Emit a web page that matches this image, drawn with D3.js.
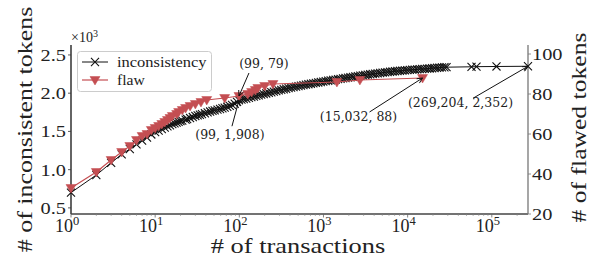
<!DOCTYPE html>
<html>
<head>
<meta charset="utf-8">
<script src="https://cdn.jsdelivr.net/npm/d3@7"></script>
<style>
  body { margin: 0; background: #fff; }
  svg text { font-family: "Liberation Serif", serif; fill: #222; }
  svg text.dv { font-family: "DejaVu Serif", serif; }
</style>
</head>
<body>
<div id="chart"></div>
<script>
// inconsistency: # of transactions vs cumulative inconsistent tokens
var txCounts = [1, 2, 3, 4, 5, 6, 7, 8, 9, 10, 11, 12, 13, 14, 15, 16, 17, 18, 19,
  20, 21, 23, 24, 26, 28, 30, 32, 34, 36, 39, 42, 45, 48, 51, 55, 59, 63, 67, 72, 77, 82, 88, 94, 99,
  106, 113, 121, 130, 139, 149, 159, 170, 182, 195, 209, 224, 240, 257, 275, 294, 315, 337, 360, 385,
  412, 441, 472, 505, 540, 578, 618, 662, 708, 758, 811, 868, 929, 994, 1063, 1138, 1217, 1303, 1394,
  1491, 1596, 1708, 1827, 1955, 2092, 2238, 2395, 2563, 2742, 2934, 3139, 3359, 3594, 3846, 4115,
  4403, 4711, 5041, 5394, 5771, 6175, 6608, 7070, 7565, 8095, 8661, 9268, 9917, 10611, 11353, 12148,
  12998, 13908, 14882, 15924, 17038, 18231, 19507, 20872, 22333, 23896, 25569, 27359, 29000,
  57400, 65800, 113700, 269204];
var inconsistentTokens = [700, 930, 1090, 1200, 1270, 1330, 1380, 1420, 1460, 1490, 1510, 1530, 1550, 1565, 1580, 1595, 1605, 1615, 1625,
  1635, 1642, 1655, 1662, 1675, 1688, 1702, 1710, 1718, 1727, 1737, 1748, 1760, 1768, 1775, 1784, 1793, 1803, 1812, 1822, 1834, 1846, 1862, 1886, 1908,
  1915, 1922, 1930, 1939, 1948, 1956, 1964, 1972, 1980, 1988, 1996, 2004, 2012, 2020, 2028, 2036, 2044, 2051, 2058, 2065,
  2072, 2079, 2086, 2093, 2099, 2105, 2111, 2117, 2123, 2129, 2135, 2140, 2146, 2152, 2157, 2163, 2168, 2173, 2178,
  2183, 2188, 2193, 2198, 2203, 2208, 2213, 2218, 2223, 2228, 2233, 2238, 2242, 2247, 2251, 2256,
  2260, 2264, 2268, 2272, 2276, 2280, 2283, 2287, 2290, 2293, 2296, 2299, 2302, 2304, 2307, 2309,
  2311, 2314, 2316, 2318, 2321, 2323, 2326, 2329, 2332, 2334, 2337, 2339, 2340,
  2345, 2347, 2349, 2352];

// flaw: # of transactions vs cumulative flawed tokens
var flawTx = [1, 2, 3, 4, 5, 6, 7, 8, 9, 10, 11, 12, 13, 14, 15, 16, 18, 19, 21, 23, 26, 30, 35, 41,
  67, 99, 126, 140, 155, 166, 200, 251, 1443, 2707, 15032];
var flawedTokens = [33, 41, 47, 51, 54, 57, 59, 60, 62, 63, 64, 65, 66, 67, 68, 69, 70, 71, 72, 73, 74, 75, 76, 77,
  78, 79, 80, 81, 82, 83, 84, 85, 86, 87, 88];

var xTicks = [1, 10, 100, 1000, 10000, 100000];
var leftTicks = [500, 1000, 1500, 2000, 2500];
var rightTicks = [20, 40, 60, 80, 100];

var noteLabels = ["(99, 79)", "(99, 1,908)", "(15,032, 88)", "(269,204, 2,352)"];
var noteX = [99, 99, 15032, 269204];
var noteY = [79, 1908, 88, 2352];
var noteAxis = ["right", "left", "right", "left"];

var W = 593, H = 260;
var red = "#c44e52";

var svg = d3.select("#chart").append("svg")
  .attr("width", W)
  .attr("height", H);

// DejaVu Serif falls back to sans at big sizes here, so large text uses
// Liberation Serif stretched to the advance widths DejaVu Serif would have
var adv = { "#": .838, " ": .318, "o": .602, "f": .37, "t": .402, "r": .478, "a": .596, "n": .644,
  "s": .513, "c": .56, "i": .32, "e": .592, "k": .6, "l": .32, "w": .856, "d": .64, "y": .568,
  ".": .318, ",": .318, "(": .39, ")": .39 };
function dvWidth(str, size) {
  var w = 0;
  for (var i = 0; i < str.length; i++) w += (/[0-9]/.test(str[i]) ? .636 : (adv[str[i]] || .6));
  return w * size;
}
function fit(sel, size) {
  sel.style("font-size", (size * 1.1) + "px")
    .attr("textLength", function() { return dvWidth(d3.select(this).text(), size); })
    .attr("lengthAdjust", "spacingAndGlyphs");
}

var x = d3.scaleLog().domain([1, 269204]).range([71, 528]);
var yL = d3.scaleLinear().domain([420, 2630]).range([214, 45]);
var yR = d3.scaleLinear().domain([20, 104.5]).range([214, 45]);

// spines
svg.append("line").attr("x1", 71).attr("x2", 71).attr("y1", 45).attr("y2", 214)
  .attr("stroke", "#111").attr("stroke-width", 1.3);
svg.append("line").attr("x1", 71).attr("x2", 528).attr("y1", 214).attr("y2", 214)
  .attr("stroke", "#444").attr("stroke-width", 1.3);
svg.append("line").attr("x1", 528).attr("x2", 528).attr("y1", 45).attr("y2", 214)
  .attr("stroke", "#777").attr("stroke-width", 1.3);

// x ticks (log, with minor)
var minor = [];
for (var d = 1; d <= 100000; d *= 10) {
  for (var m = 2; m <= 9; m++) if (d * m <= 269204) minor.push(d * m);
}
svg.append("g").selectAll("line").data(minor).enter().append("line")
  .attr("x1", function(v) { return x(v); }).attr("x2", function(v) { return x(v); })
  .attr("y1", 214).attr("y2", 216)
  .attr("stroke", "#888").attr("stroke-width", 0.6);
svg.append("g").selectAll("line").data(xTicks).enter().append("line")
  .attr("x1", function(v) { return x(v); }).attr("x2", function(v) { return x(v); })
  .attr("y1", 214).attr("y2", 217.5)
  .attr("stroke", "#666").attr("stroke-width", 0.8);
var xl = svg.append("g").selectAll("text").data(xTicks).enter().append("text")
  .attr("x", function(v) { return x(v) - 4; })
  .attr("y", 231.5)
  .attr("text-anchor", "middle")
  .style("font-size", "18px");
xl.append("tspan").text("10");
xl.append("tspan").attr("dy", -7).style("font-size", "12.5px")
  .text(function(v) { return Math.round(Math.log10(v)); });

// left ticks
svg.append("g").selectAll("line").data(leftTicks).enter().append("line")
  .attr("x1", 68).attr("x2", 71)
  .attr("y1", function(v) { return yL(v); }).attr("y2", function(v) { return yL(v); })
  .attr("stroke", "#333").attr("stroke-width", 0.8);
svg.append("g").selectAll("text").data(leftTicks).enter().append("text")
  .attr("x", 66).attr("y", function(v) { return yL(v); })
  .attr("dy", "0.34em")
  .attr("text-anchor", "end")
  .text(function(v) { return d3.format(".1f")(v / 1000); })
  .call(fit, 16);
var mult = svg.append("text").attr("x", 71).attr("y", 42).style("font-size", "14px");
mult.append("tspan").text("×10");
mult.append("tspan").attr("dy", -5).style("font-size", "10px").text("3");

// right ticks
svg.append("g").selectAll("line").data(rightTicks).enter().append("line")
  .attr("x1", 528).attr("x2", 531)
  .attr("y1", function(v) { return yR(v); }).attr("y2", function(v) { return yR(v); })
  .attr("stroke", "#777").attr("stroke-width", 0.8);
svg.append("g").selectAll("text").data(rightTicks).enter().append("text")
  .attr("x", 532).attr("y", function(v) { return yR(v); })
  .attr("dy", "0.34em")
  .text(function(v) { return v; })
  .call(fit, 16);

// axis titles
svg.append("text").attr("x", 298).attr("y", 253)
  .attr("text-anchor", "middle")
  .text("# of transactions")
  .call(fit, 20);
svg.append("text").attr("transform", "translate(32,129.5) rotate(-90)")
  .attr("text-anchor", "middle")
  .text("# of inconsistent tokens")
  .call(fit, 20);
svg.append("text").attr("transform", "translate(586,127.5) rotate(-90)")
  .attr("text-anchor", "middle")
  .text("# of flawed tokens")
  .call(fit, 20);

// inconsistency series
var incPts = txCounts.map(function(t, i) { return [t, inconsistentTokens[i]]; });
svg.append("path").datum(incPts)
  .attr("fill", "none").attr("stroke", "#111").attr("stroke-width", 1)
  .attr("d", d3.line().x(function(p) { return x(p[0]); }).y(function(p) { return yL(p[1]); }));
var cross = d3.symbol().type(d3.symbolX).size(44);
svg.append("g").selectAll("path").data(incPts).enter().append("path")
  .attr("d", cross)
  .attr("transform", function(p) { return "translate(" + x(p[0]) + "," + yL(p[1]) + ")"; })
  .attr("fill", "none").attr("stroke", "#111").attr("stroke-width", 1.1);

// flaw series
var flawPts = flawTx.map(function(t, i) { return [t, flawedTokens[i]]; });
svg.append("path").datum(flawPts)
  .attr("fill", "none").attr("stroke", red).attr("stroke-width", 1.2)
  .attr("d", d3.line().x(function(p) { return x(p[0]); }).y(function(p) { return yR(p[1]); }));
var tri = "M-5,-3.5L5,-3.5L0,5Z";
svg.append("g").selectAll("path").data(flawPts).enter().append("path")
  .attr("d", tri)
  .attr("transform", function(p) { return "translate(" + x(p[0]) + "," + yR(p[1]) + ")"; })
  .attr("fill", red).attr("stroke", red).attr("stroke-width", 0.5);

// annotations: text offset and arrow start relative to the target point
var noteDx = [25, -9, -64, -67.5], noteDy = [-28, 39, 43, 41];
var arrDx = [10, -7, -53, -55], arrDy = [-23, 26, 34, 32];
noteLabels.forEach(function(lab, i) {
  var tx = x(noteX[i]);
  var ty = noteAxis[i] === "left" ? yL(noteY[i]) : yR(noteY[i]);
  svg.append("text").attr("class", "dv").attr("x", tx + noteDx[i]).attr("y", ty + noteDy[i])
    .attr("text-anchor", "middle").style("font-size", "12.5px")
    .text(lab);
  var sx = tx + arrDx[i], sy = ty + arrDy[i];
  var ang = Math.atan2(ty - sy, tx - sx);
  var hl = 6, hw = 0.45;
  svg.append("path")
    .attr("d", "M" + sx + "," + sy + "L" + tx + "," + ty +
      "M" + (tx - hl * Math.cos(ang - hw)) + "," + (ty - hl * Math.sin(ang - hw)) +
      "L" + tx + "," + ty +
      "L" + (tx - hl * Math.cos(ang + hw)) + "," + (ty - hl * Math.sin(ang + hw)))
    .attr("fill", "none").attr("stroke", "#111").attr("stroke-width", 1);
});

// legend
var lg = svg.append("g");
lg.append("rect").attr("x", 77.5).attr("y", 51.5).attr("width", 134).attr("height", 40)
  .attr("rx", 3).attr("fill", "#fff").attr("fill-opacity", 0.85)
  .attr("stroke", "#ccc").attr("stroke-width", 1);
lg.append("line").attr("x1", 82).attr("x2", 108).attr("y1", 62).attr("y2", 62)
  .attr("stroke", "#111").attr("stroke-width", 1);
lg.append("path").attr("d", cross).attr("transform", "translate(95,62)")
  .attr("fill", "none").attr("stroke", "#111").attr("stroke-width", 1.1);
lg.append("line").attr("x1", 82).attr("x2", 108).attr("y1", 80).attr("y2", 80)
  .attr("stroke", red).attr("stroke-width", 1.2);
lg.append("path").attr("d", tri).attr("transform", "translate(95,80)")
  .attr("fill", red).attr("stroke", red).attr("stroke-width", 0.5);
lg.append("text").attr("x", 117).attr("y", 62).attr("dy", "0.34em")
  .text("inconsistency").call(fit, 13);
lg.append("text").attr("x", 117).attr("y", 80).attr("dy", "0.34em")
  .text("flaw").call(fit, 13);
</script>
</body>
</html>
